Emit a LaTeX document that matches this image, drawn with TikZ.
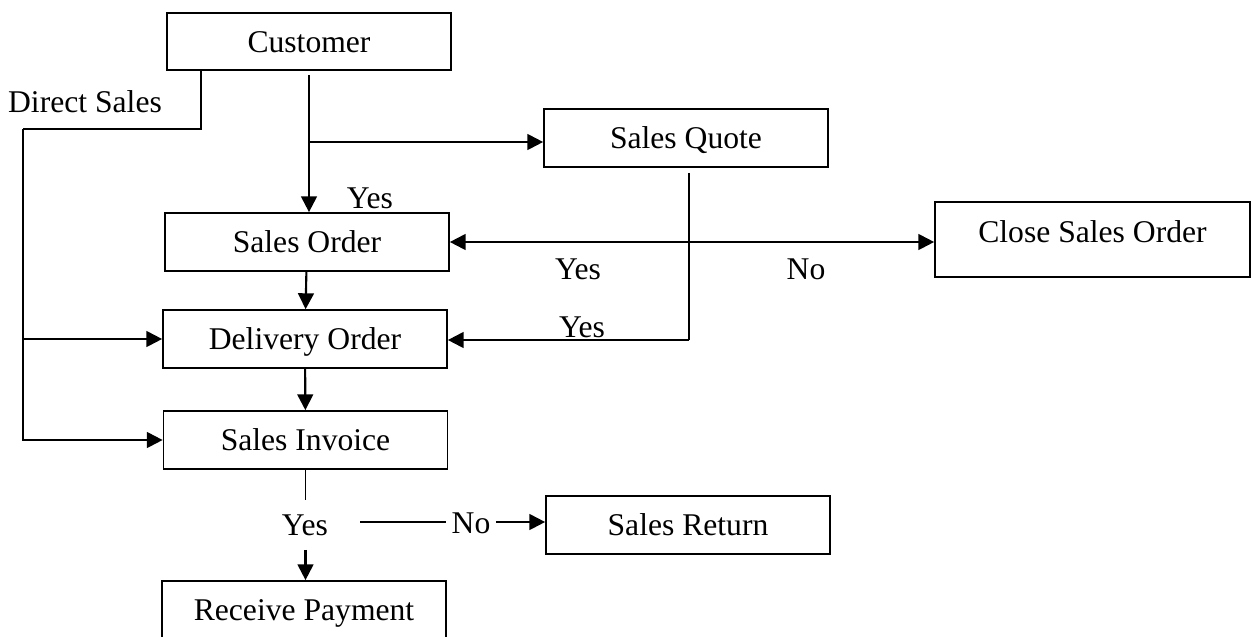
\documentclass[tikz,border=0pt]{standalone}
\usepackage{fontspec}
\setmainfont{Liberation Serif}
\usetikzlibrary{arrows.meta}

\tikzset{
  stepbox/.style={draw, line width=1pt, minimum width=5.68cm, minimum height=1.16cm,
    inner sep=0pt, text height=12pt, text depth=0pt},
  tag/.style={inner sep=3pt},
  flow/.style={line width=1.2pt, -{Triangle[length=9pt,width=9pt]}},
  link/.style={line width=1.2pt},
  thinlink/.style={line width=0.8pt},
}

\begin{document}
\begin{tikzpicture}[x=0.02cm, y=-0.02cm, font=\fontsize{18}{22}\selectfont]
\useasboundingbox (0,0) rectangle (1256,636);

% Process boxes
\node[stepbox, minimum height=1.14cm] (cust) at (309,41.5) {Customer};
\node[stepbox] (quote) at (686,138) {Sales Quote};
\node[stepbox] (order) at (307,242) {Sales Order};
\node[stepbox, minimum width=6.3cm, minimum height=1.5cm, text depth=9pt] (close) at (1092.5,239.5) {Close Sales Order};
\node[stepbox] (deliv) at (305,339) {Delivery Order};
\node[stepbox] (inv) at (305.5,440) {Sales Invoice};
\node[stepbox] (ret) at (688,525) {Sales Return};
\node[stepbox] (pay) at (304,610) {Receive Payment};

% Direct sales branch
\coordinate (dsTop) at (201,129);
\coordinate (dsCorner) at (23,129);
\node[tag] (dsText) at (85,102) {Direct Sales};
\draw[link] (cust.south -| dsTop) -- (dsTop) -- (dsCorner);
\draw[flow] (dsCorner) |- (inv.west);
\draw[flow] (dsCorner |- deliv.west) -- (deliv.west);

% Customer to order and quote
\draw[flow] ([yshift=-0.08cm]cust.south) -- (cust.south |- order.north);
\coordinate (qBranch) at (308,142);
\draw[flow] (qBranch) -- (qBranch -| quote.west);
\node[tag] (yesOrder) at (370,198) {Yes};

% Quote decision
\draw[flow, {Triangle[length=9pt,width=9pt]}-{Triangle[length=9pt,width=9pt]}] (order.east) -- (order.east -| close.west);
\coordinate (qDown) at (689,340);
\draw[thinlink] ([yshift=-0.1cm]quote.south -| qDown) -- (qDown);
\draw[flow] (qDown) -- (qDown -| deliv.east);
\node[tag] (yesQuote) at (578,269) {Yes};
\node[tag] (noQuote) at (806,269) {No};
\node[tag] (yesDeliv) at (582,327) {Yes};

% Main flow
\draw[flow] (order) -- (deliv);
\draw[flow] (deliv) -- (inv);

% Payment decision
\node[tag, minimum height=0.98cm] (yesPay) at (305,525) {Yes};
\draw[thinlink] (inv.south) -- (inv.south |- yesPay.north);
\draw[flow] (inv.south |- yesPay.south) -- (inv.south |- pay.north);
\coordinate (retLine) at (360,522);
\node[tag] (noRet) at (471,523) {No};
\draw[link] (retLine) -- (retLine -| noRet.west);
\draw[flow] (retLine -| noRet.east) -- (retLine -| ret.west);

\end{tikzpicture}
\end{document}
